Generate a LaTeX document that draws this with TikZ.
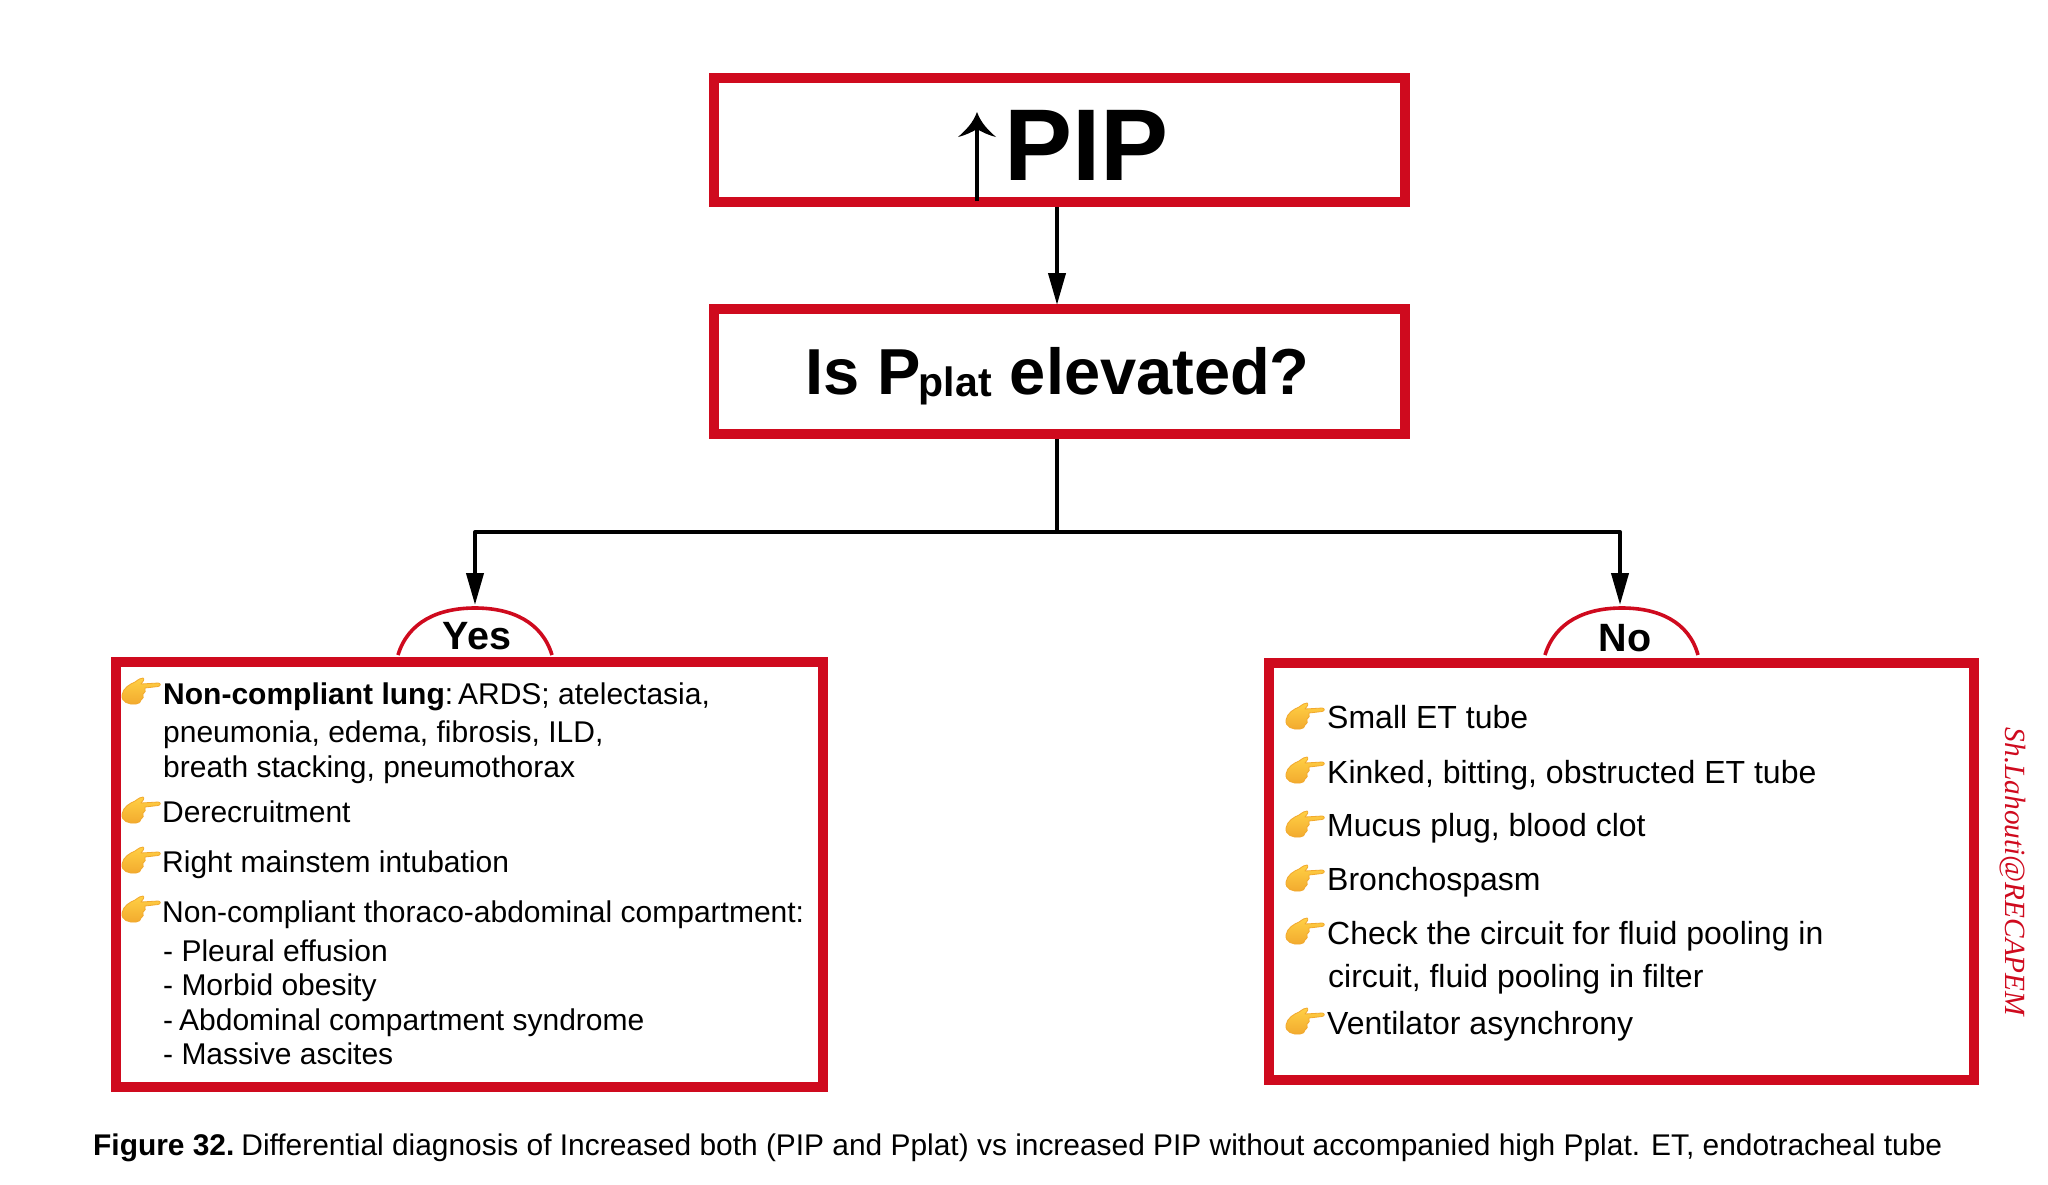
\documentclass[tikz,border=0pt]{standalone}
\usepackage{fontspec}
\setmainfont{Liberation Sans}
\newfontfamily\wmfont{Liberation Serif}
\usetikzlibrary{arrows.meta}
\definecolor{boxred}{HTML}{CF0A1E}
\definecolor{handyel}{HTML}{FFD044}
\definecolor{handorg}{HTML}{F2A92E}
\tikzset{
  x=1pt,y=-1pt,
  bigbox/.style={draw=boxred,line width=10pt,fill=white,minimum width=691pt,inner sep=0pt},
  listbox/.style={draw=boxred,line width=10pt,inner sep=0pt},
  body/.style={anchor=base west,inner sep=0pt,font=\fontsize{30}{36}\selectfont},
  rbody/.style={anchor=base west,inner sep=0pt,font=\fontsize{32}{38}\selectfont},
  lbl/.style={anchor=base,inner sep=0pt,font=\fontsize{39.5}{48}\selectfont\bfseries},
  conn/.style={line width=4pt,draw=black},
  arr/.style={conn,-{Triangle[length=32pt,width=17pt]},shorten >=-1pt},
  hand/.pic={
    \path[top color=handyel,bottom color=handorg,draw=handorg,line width=.8pt,line join=round]
      (-19,3) .. controls (-18,-4) and (-11,-8) .. (-6,-10)
      .. controls (-2,-13) and (0,-14) .. (2,-14)
      .. controls (4,-13) and (2,-10) .. (0,-8)
      -- (17,-9) .. controls (20,-9) and (20,-6) .. (17,-5.5)
      -- (4,-4) .. controls (5,-1) and (4,1) .. (2,2)
      .. controls (3,5) and (2,7) .. (0,8)
      .. controls (0,10) and (-2,12) .. (-5,12)
      .. controls (-12,13) and (-20,10) .. (-19,3) -- cycle;
  }
}
\begin{document}
\begin{tikzpicture}
\useasboundingbox[fill=white] (0,0) rectangle (2048,1184);
% top boxes
\node[bigbox,minimum height=124pt] (pip) at (1059.5,140) {};
\node[bigbox,minimum height=125pt] (q) at (1059.5,371.5) {};
\node[anchor=base,inner sep=0pt,font=\fontsize{102}{120}\selectfont\bfseries] (piptext) at (1086.5,180) {PIP};
\node[anchor=base,inner sep=0pt,font=\fontsize{65}{76}\selectfont\bfseries] (qtext) at (1057.5,394) {Is P\hspace{-2pt}\raisebox{-2pt}{\fontsize{41}{44}\selectfont plat} elevated?};
% up arrow glyph
\coordinate (upbase) at (977,201);
\coordinate (uptip) at (977,112);
\draw[line width=4.4pt] (upbase) -- (977,125);
\fill (uptip) .. controls (981,123) and (988,130) .. (996,137)
  .. controls (988,135) and (982,132) .. (977,129)
  .. controls (972,132) and (966,135) .. (958,137)
  .. controls (966,130) and (973,123) .. (uptip) -- cycle;
% list boxes
\node[listbox,minimum width=707pt,minimum height=425pt] (lb) at (469.5,874.5) {};
\node[listbox,minimum width=705pt,minimum height=417pt] (rb) at (1621.5,871.5) {};
% caps
\draw[boxred,line width=3.6pt] (398,655) .. controls (408,622) and (438,608) .. (475,608) .. controls (512,608) and (542,622) .. (552,655);
\draw[boxred,line width=3.6pt] (1545,655) .. controls (1555,622) and (1585,608) .. (1622,608) .. controls (1659,608) and (1689,622) .. (1698,655);
\node[lbl] (yes) at (477,649) {Yes};
\node[lbl] (no) at (1625,651) {No};
% connectors
\coordinate (jl) at (475,532);
\coordinate (jr) at (1620,532);
\coordinate (jm) at (1057,532);
\coordinate (yt) at (475,604);
\coordinate (nt) at (1620,604);
\draw[arr] (pip.south -| jm) -- (q.north -| jm);
\draw[conn] (q.south -| jm) -- (jm);
\draw[conn,line cap=round] (jl) -- (jr);
\draw[arr] (jl) -- (yt);
\draw[arr] (jr) -- (nt);
% left list
\node[body] (l1) at (163,704) {\textbf{Non-compliant lung}:\hspace{5pt}ARDS; atelectasia,};
\node[body] (l2) at (163,742) {pneumonia, edema, fibrosis, ILD,};
\node[body] (l3) at (163,777) {breath stacking, pneumothorax};
\node[body] (l4) at (162,822) {Derecruitment};
\node[body] (l5) at (162,872) {Right mainstem intubation};
\node[body] (l6) at (162,922) {Non-compliant thoraco-abdominal compartment:};
\node[body] (l7) at (163,961) {- Pleural effusion};
\node[body] (l8) at (163,995) {- Morbid obesity};
\node[body] (l9) at (163,1030) {-\hspace{6pt}Abdominal compartment syndrome};
\node[body] (l10) at (163,1064) {- Massive ascites};
% right list
\node[rbody] (r1) at (1327,728) {Small ET tube};
\node[rbody] (r2) at (1327,783) {Kinked, bitting, obstructed ET tube};
\node[rbody] (r3) at (1327,836) {Mucus plug, blood clot};
\node[rbody] (r4) at (1327,890) {Bronchospasm};
\node[rbody] (r5) at (1327,944) {Check the circuit for fluid pooling in};
\node[rbody] (r6) at (1328,987) {circuit, fluid pooling in filter};
\node[rbody] (r7) at (1327,1034) {Ventilator asynchrony};
% hands
\foreach \hy in {692,811,861,910} \pic at (141,\hy) {hand};
\foreach \hy in {717,771,825,879,932,1022} \pic at (1305,\hy) {hand};
% caption
\node[body,font=\fontsize{29.9}{34}\selectfont] (cap) at (93,1155) {\textbf{Figure 32.}\hspace{7pt}Differential diagnosis of Increased both (PIP and Pplat) vs increased PIP without accompanied high Pplat. ET, endotracheal tube};
% watermark
\node[anchor=base,inner sep=0pt,rotate=-90,text=boxred,font=\fontsize{29.3}{32}\selectfont\wmfont\itshape] (wm) at (2005,872) {Sh.Lahouti@RECAPEM};
\end{tikzpicture}
\end{document}
